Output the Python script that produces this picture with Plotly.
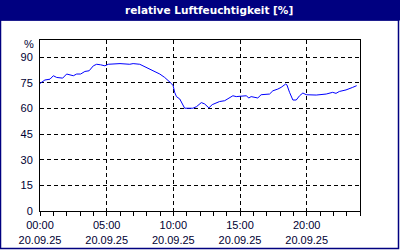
import plotly.graph_objects as go

times = ["00:00","00:22","00:45","01:00","01:15","01:42","02:00","02:15","02:30","02:45",
         "03:03","03:22","03:41","04:00","04:15","04:33","04:52","05:07","06:00","06:44",
         "06:59","07:29","07:59","08:14","08:36","08:59","09:21","09:36","09:51","09:59",
         "10:06","10:14","10:29","10:51","11:28","11:44","12:06","12:21","12:40","12:55",
         "13:13","13:28","13:51","14:13","14:28","14:43","15:28","15:40","15:50","16:20",
         "16:35","17:13","17:28","17:50","18:05","18:25","18:31","18:43","18:58","19:13",
         "19:28","19:43","19:58","20:43","21:28","21:57","22:12","22:27","22:57","23:27","23:45"]
humidity = [74.6,76.6,77.1,79.1,78.1,77.7,80.1,79.7,79.1,80.1,
            80.1,81.6,82.0,84.9,85.8,85.5,84.9,85.8,86.2,85.8,
            86.2,85.8,83.9,82.8,81.6,80.1,78.1,76.6,74.6,73.3,
            69.4,66.9,65.5,60.1,60.1,61.0,63.4,62.6,60.3,62.2,
            63.0,64.0,64.5,66.1,67.4,66.9,67.4,66.1,66.9,66.1,
            68.0,68.4,70.3,71.3,72.3,74.2,73.8,69.4,64.9,64.9,
            67.4,69.0,68.0,67.8,68.4,69.4,68.8,69.9,70.8,72.3,73.3]
date = "2025-09-20"
y_ticks = [0, 15, 30, 45, 60, 75, 90]
title_text = "relative Luftfeuchtigkeit [%]"
unit_label = "%"

x = [f"{date} {t}" for t in times]

# pixel geometry helpers (plot area 40..360 x, 40..211 y)
L, R, T, B = 40, 360, 40, 211
def px(X):
    return (X - L) / (R - L)
def py(Y):
    return (B - Y) / (B - T)

navy = "#000080"
fig = go.Figure()
fig.add_trace(go.Scatter(x=x, y=humidity, mode="lines",
                         line=dict(color="#0000FF", width=1), hoverinfo="skip"))

font = dict(family="Liberation Sans, Arial, sans-serif", size=11, color="#000033")
fig.update_layout(
    width=400, height=250,
    margin=dict(l=L, r=400 - R, t=T, b=250 - B, autoexpand=False),
    paper_bgcolor="white", plot_bgcolor="white",
    showlegend=False, font=font,
    xaxis=dict(
        type="date", automargin=False,
        range=[f"{date} 00:00", "2025-09-21 00:00"],
        tick0=f"{date} 00:00", dtick=5 * 3600000,
        tickformat="%H:%M<br>%d.%m.%y",
        ticks="outside", ticklen=4, tickcolor="black",
        ticklabelstandoff=0,
        showline=True, linecolor="black", linewidth=1, mirror=True,
        showgrid=True, gridcolor="black", gridwidth=1, griddash="4px,3px",
        minor=dict(dtick=3600000, ticks="outside", ticklen=4, tickcolor="black", showgrid=False),
        zeroline=False, fixedrange=True,
    ),
    yaxis=dict(
        range=[0, 100], tickvals=y_ticks, automargin=False,
        ticks="", ticklabelstandoff=4,
        showline=True, linecolor="black", linewidth=1, mirror=True,
        showgrid=True, gridcolor="black", gridwidth=1, griddash="4px,3px",
        zeroline=False, fixedrange=True,
    ),
    shapes=[
        dict(type="rect", xref="paper", yref="paper",
             x0=px(0), x1=px(400), y0=py(0), y1=py(20.5),
             fillcolor=navy, line=dict(width=0), layer="above"),
        dict(type="rect", xref="paper", yref="paper",
             x0=px(0.5), x1=px(398.5), y0=py(20), y1=py(248.5),
             fillcolor="rgba(0,0,0,0)", line=dict(color=navy, width=1.5), layer="above"),
    ],
    annotations=[
        dict(text=f"<b>{title_text}</b>", xref="paper", yref="paper",
             x=px(209), y=py(10), xanchor="center", yanchor="middle", showarrow=False,
             font=dict(family="DejaVu Sans, sans-serif", size=10.5, color="white")),
        dict(text=unit_label, xref="paper", yref="paper",
             x=px(36), y=py(44), xanchor="right", yanchor="middle", showarrow=False,
             font=font),
    ],
)
fig.write_html("out.html")
